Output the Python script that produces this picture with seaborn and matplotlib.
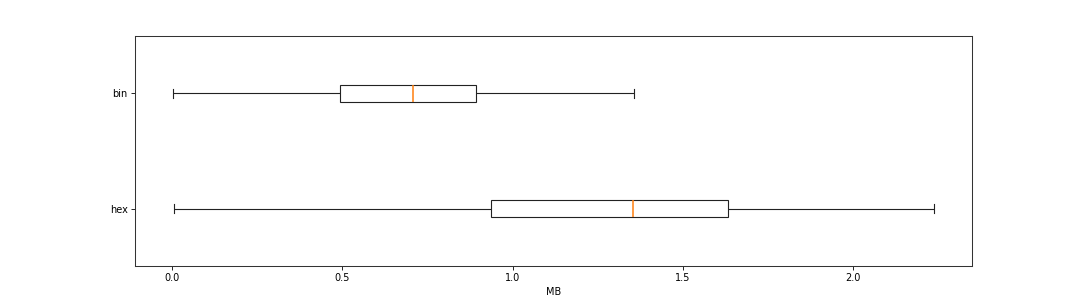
import matplotlib
matplotlib.use("Agg")
import matplotlib.pyplot as plt
import seaborn as sns
import pandas as pd

# Five-number summaries (min, Q1, median, Q3, max), in MB
categories = ["bin", "hex"]
bin_mb = [0.002, 0.493, 0.708, 0.892, 1.357]
hex_mb = [0.004, 0.938, 1.355, 1.633, 2.239]

df = pd.DataFrame({
    "encoding": ["bin"] * len(bin_mb) + ["hex"] * len(hex_mb),
    "MB": bin_mb + hex_mb,
})

plt.rcParams.update({
    "font.size": 7,
    "axes.linewidth": 0.75,
    "xtick.major.size": 2.6,
    "ytick.major.size": 2.6,
    "xtick.major.width": 0.6,
    "ytick.major.width": 0.6,
    "xtick.major.pad": 2.6,
    "ytick.major.pad": 2.6,
    "axes.labelpad": 2.9,
    "axes.edgecolor": "#333333",
})

fig, ax = plt.subplots(figsize=(10.8, 2.99), dpi=100)
sns.boxplot(
    data=df, x="MB", y="encoding", order=categories, orient="h",
    width=0.15, color="white", linecolor="#222222", linewidth=0.8,
    medianprops={"color": "#ff7f0e", "linewidth": 1.1}, whis=1.5, ax=ax,
)
ax.set_ylabel("")
ax.set_xlabel("MB")
for s in ax.spines.values():
    s.set_visible(True)
fig.savefig("out.png", dpi=100)
